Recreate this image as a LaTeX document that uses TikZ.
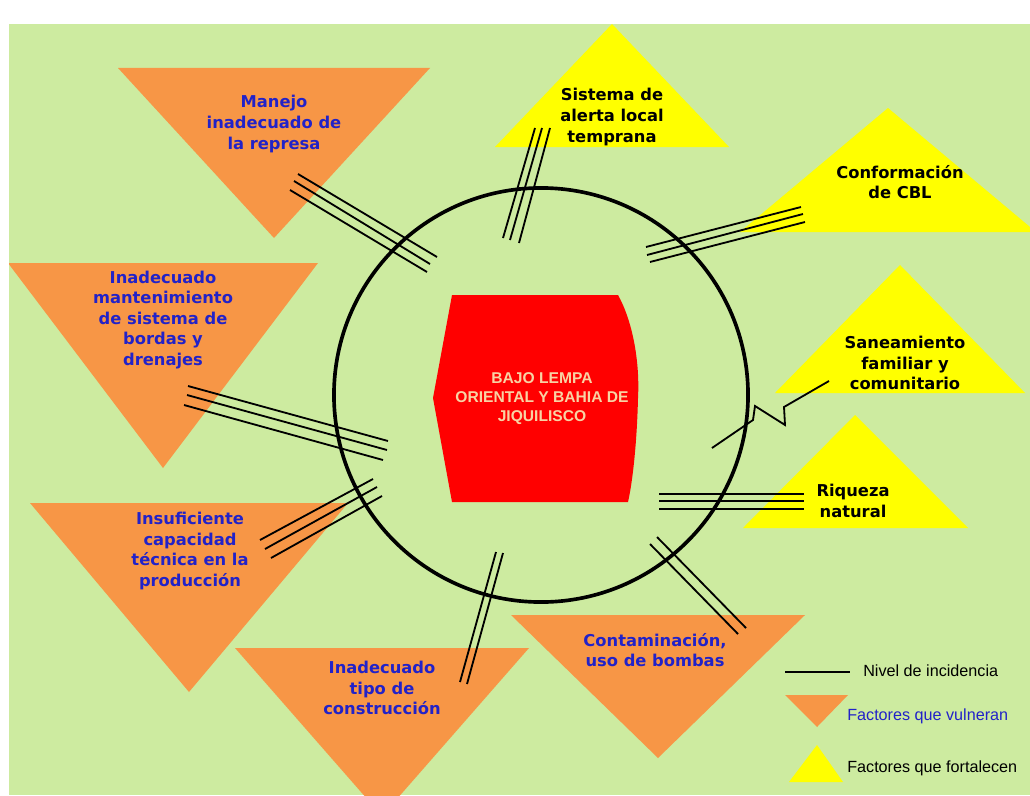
\documentclass[tikz,border=0pt]{standalone}
\usepackage{fontspec}
\setmainfont{DejaVu Sans}
\newfontfamily\arialfont{Liberation Sans}
\definecolor{fondo}{HTML}{CDEBA0}
\definecolor{naranja}{HTML}{F79646}
\definecolor{amarillo}{HTML}{FFFF00}
\definecolor{azul}{HTML}{2222C8}
\definecolor{crema}{HTML}{F8D3A4}

\begin{document}
\begin{tikzpicture}[x=0.025cm, y=-0.025cm,
                    vulnera/.style={fill=naranja},
                    fortalece/.style={fill=amarillo},
                    vlabel/.style={align=center, text=azul, inner sep=0, font=\fontsize{11.6}{14.6}\selectfont\bfseries},
                    flabel/.style={align=center, text=black, inner sep=0, font=\fontsize{11.6}{14.6}\selectfont\bfseries},
                    nivel/.style={line width=1.3pt},
                    leyenda/.style={anchor=west, inner sep=0, font=\arialfont\fontsize{11.5}{13}\selectfont}]
        \useasboundingbox (0,0) rectangle (1030,795);
        \fill[fondo] (9,24) rectangle (1030,795);
        \begin{scope}
            \clip (9,24) rectangle (1030,795);
            % factores que vulneran
            \fill[vulnera] (118,68) -- (430,68) -- (274,238) -- cycle;
            \fill[vulnera] (8,263) -- (318,263) -- (163,468) -- cycle;
            \fill[vulnera] (30,503) -- (348,503) -- (189,692) -- cycle;
            \fill[vulnera] (235,648) -- (529,648) -- (382,816) -- cycle;
            \fill[vulnera] (511,615) -- (805,615) -- (658,758) -- cycle;
            % factores que fortalecen
            \fill[fortalece] (612,24) -- (729,147) -- (495,147) -- cycle;
            \fill[fortalece] (888,108) -- (1036,232) -- (740,232) -- cycle;
            \fill[fortalece] (900,265) -- (1025,393) -- (775,393) -- cycle;
            \fill[fortalece] (855,415) -- (968,528) -- (743,528) -- cycle;
        \end{scope}
        \node[draw, circle, line width=2.6pt, minimum size=10.35cm, inner sep=0] (anillo) at (541,395) {};
        % zona central
        \fill[red] (452,295) -- (618,295) .. controls (632,320) and (640,360) .. (638,398)
            .. controls (637,440) and (633,480) .. (628,502) -- (452,502) -- (433,398) -- cycle;
        \node[align=center, text=crema, inner sep=0, font=\arialfont\bfseries\fontsize{11.1}{13.5}\selectfont] (zona) at (542,399)
            {BAJO LEMPA\\ORIENTAL Y BAHIA DE\\JIQUILISCO};
        % niveles de incidencia
        \foreach \xa/\ya/\xb/\yb in {298/174/437/257, 294/181/430/264, 290/190/427/272,
                                   535/128/503/238, 542/128/510/240, 550/128/519/243,
                                   646/247/801/207, 647/255/803/214, 650/262/805/222,
                                   188/386/388/441, 187/395/387/450, 184/405/383/460,
                                   260/540/373/479, 265/549/377/487, 271/558/382/496,
                                   496/552/460/682, 503/553/467/684,
                                   650/544/738/634, 657/537/746/628,
                                   659/494/804/494, 659/501/804/501, 659/509/804/509}
            \draw[nivel] (\xa,\ya) -- (\xb,\yb);
        \draw[nivel] (712,448) -- (753,420) -- (755,406) -- (785,425) -- (784,407) -- (829,381);
        % textos
        \node[vlabel] (manejo) at (274,124) {Manejo\\inadecuado de\\la represa};
        \node[flabel] (sistema) at (612,117) {Sistema de\\alerta local\\temprana};
        \node[flabel] (cbl) at (900,182) {Conformación\\de CBL};
        \node[vlabel] (bordas) at (163,320) {Inadecuado\\mantenimiento\\de sistema de\\bordas y\\drenajes};
        \node[flabel] (saneam) at (905,363) {Saneamiento\\familiar y\\comunitario};
        \node[flabel] (riqueza) at (853,501) {Riqueza\\natural};
        \node[vlabel] (tecnica) at (190,551) {Insuficiente\\capacidad\\técnica en la\\producción};
        \node[vlabel] (constr) at (382,688) {Inadecuado\\tipo de\\construcción};
        \node[vlabel] (contam) at (655,650) {Contaminación,\\uso de bombas};
        % leyenda
        \draw[line width=1.5pt] (785,672) -- (850,672);
        \fill[vulnera] (785,695) -- (848,695) -- (817,727) -- cycle;
        \fill[fortalece] (817,745) -- (843,782) -- (789,782) -- cycle;
        \node[leyenda] (ley1) at (863,671) {Nivel de incidencia};
        \node[leyenda, text=azul] (ley2) at (847,716) {Factores que vulneran};
        \node[leyenda] (ley3) at (847,768) {Factores que fortalecen};
    \end{tikzpicture}
\end{document}
